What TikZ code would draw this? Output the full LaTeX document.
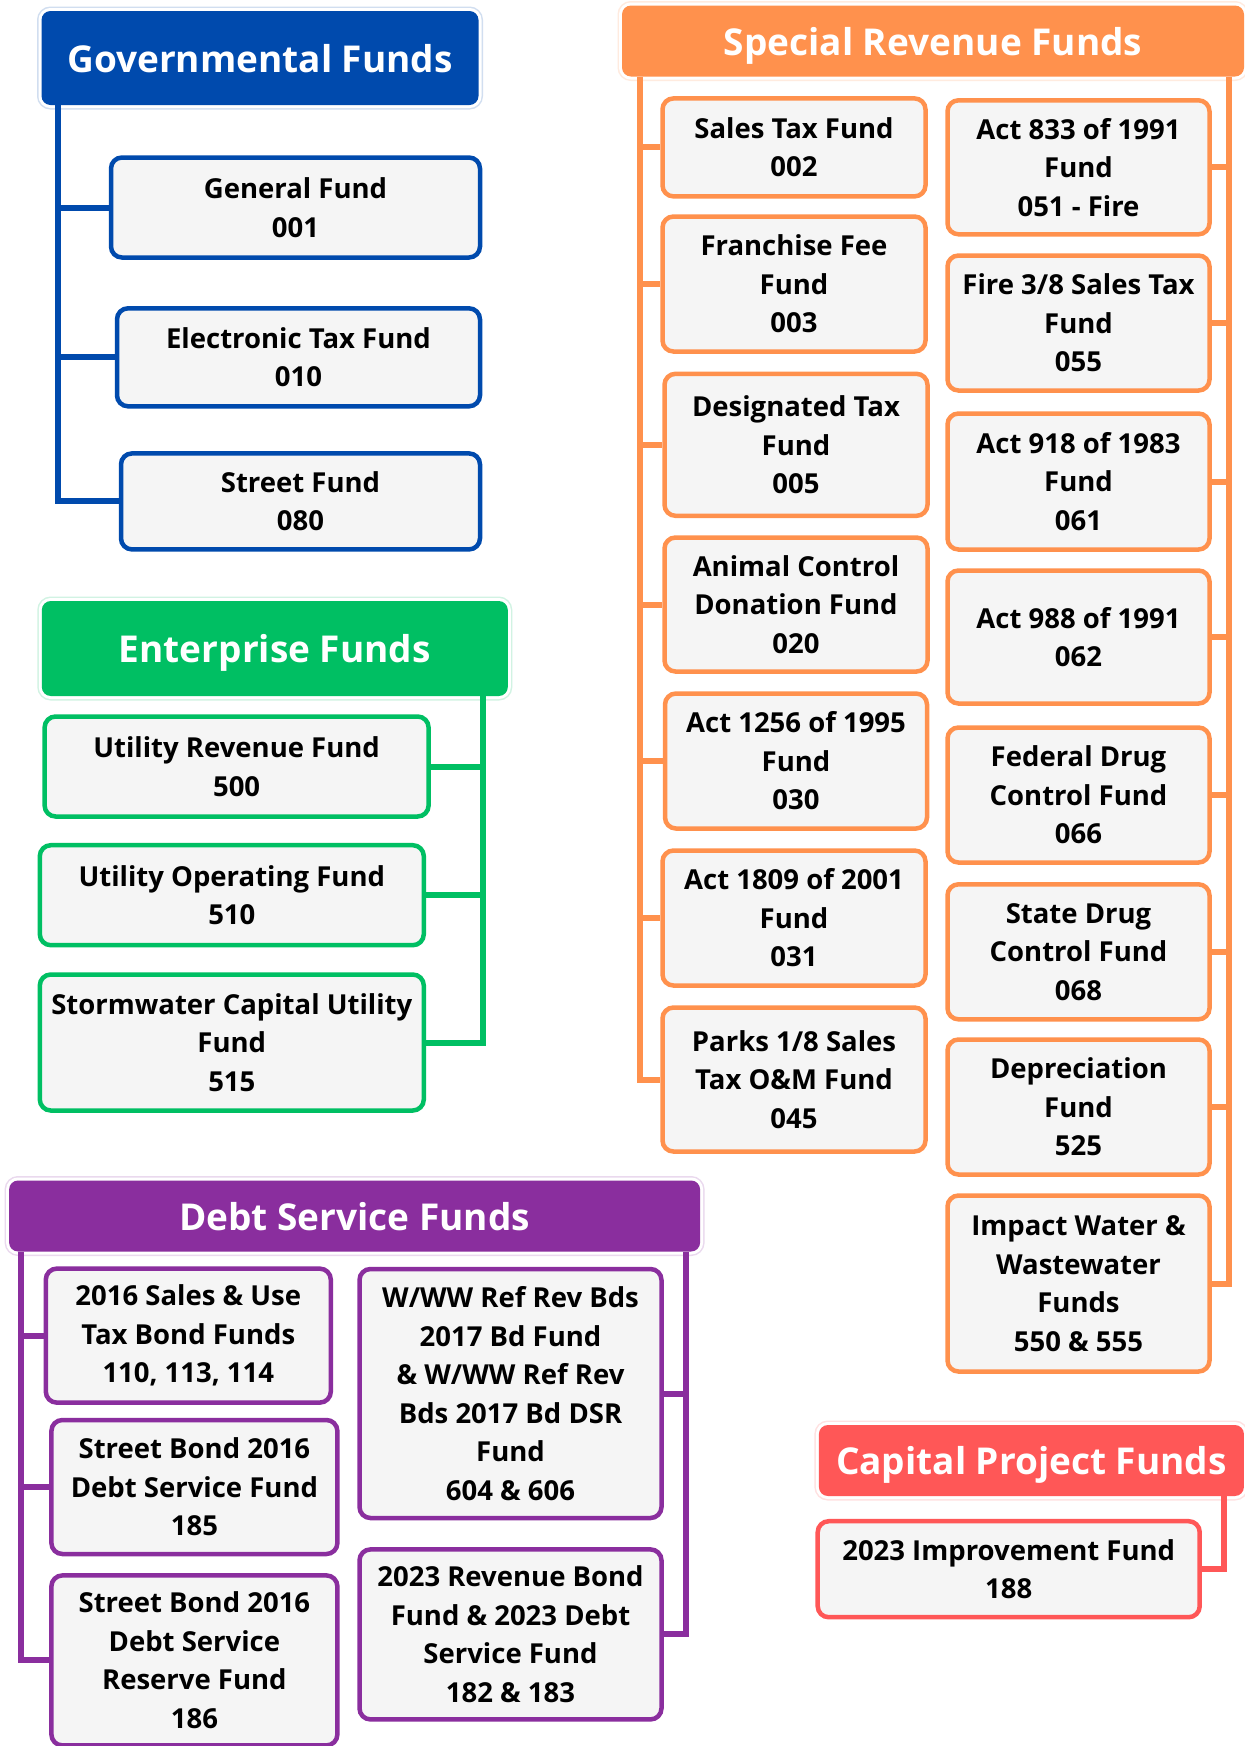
\documentclass[tikz,border=0pt]{standalone}
\usepackage{fontspec}
\setmainfont{Open Sans}
\definecolor{blu}{HTML}{004AAD}
\definecolor{grn}{HTML}{00BF63}
\definecolor{org}{HTML}{FF914D}
\definecolor{pur}{HTML}{8A2E9E}
\definecolor{red1}{HTML}{FF5757}
\definecolor{boxgray}{HTML}{F5F5F5}
\tikzset{
  fundbox/.style={draw=#1, line width=4.5pt, rounded corners=11pt, fill=boxgray,
    align=center, inner sep=0pt, text=black,
    font=\fontsize{27.5}{38.5}\selectfont\bfseries},
  headbox/.style={fill=#1, draw=none, rounded corners=9pt, text=white,
    inner sep=0pt, align=center, text depth=0pt,
    preaction={draw=#1!18, line width=9pt, rounded corners=9pt},
    preaction={draw=white, line width=6pt, rounded corners=9pt},
    font=\fontsize{37}{40}\selectfont\bfseries},
  conn/.style={draw=#1, line width=6pt, line join=miter}
}
\begin{document}
\begin{tikzpicture}[x=1pt,y=-1pt]
\useasboundingbox (0,0) rectangle (1245,1746);
\clip (0,0) rectangle (1245,1746);
\fill[white] (0,0) rectangle (1245,1746);

% ---------------- Governmental Funds ----------------
\coordinate (gx) at (58,0);
\node[headbox=blu, minimum width=437pt, minimum height=94pt] (gh) at (260,58) {Governmental Funds};
\node[fundbox=blu, minimum width=369pt, minimum height=100pt] (g1) at (295.5,207.5) {General Fund\\001};
\node[fundbox=blu, minimum width=363pt, minimum height=98pt] (g2) at (298.5,357.3) {Electronic Tax Fund\\010};
\node[fundbox=blu, minimum width=359pt, minimum height=96pt] (g3) at (300.5,501.4) {Street Fund\\080};
\draw[conn=blu] (gh.south -| gx) -- (gx |- g3.west) -- (g3.west);
\draw[conn=blu] (gx |- g1.west) -- (g1.west);
\draw[conn=blu] (gx |- g2.west) -- (g2.west);

% ---------------- Enterprise Funds ----------------
\coordinate (ex) at (483,0);
\node[headbox=grn, minimum width=466pt, minimum height=95pt] (eh) at (274.8,648.5) {Enterprise Funds};
\node[fundbox=grn, minimum width=384pt, minimum height=100pt] (e1) at (236.6,766.5) {Utility Revenue Fund\\500};
\node[fundbox=grn, minimum width=384pt, minimum height=100pt] (e2) at (231.8,895.2) {Utility Operating Fund\\510};
\node[fundbox=grn, minimum width=384pt, minimum height=136pt] (e3) at (231.8,1042.5) {Stormwater Capital Utility\\Fund\\515};
\draw[conn=grn] (eh.south -| ex) -- (ex |- e3.east) -- (e3.east);
\draw[conn=grn] (ex |- e1.east) -- (e1.east);
\draw[conn=grn] (ex |- e2.east) -- (e2.east);

% ---------------- Special Revenue Funds ----------------
\coordinate (slx) at (640,0);
\coordinate (srx) at (1229,0);
\node[headbox=org, minimum width=622pt, minimum height=71pt] (sh) at (933,41) {Special Revenue Funds};
\node[fundbox=org, minimum width=263pt, minimum height=98pt] (s1) at (794,147.4) {Sales Tax Fund\\002};
\node[fundbox=org, minimum width=263pt, minimum height=135pt] (s2) at (794,284) {Franchise Fee\\Fund\\003};
\node[fundbox=org, minimum width=263pt, minimum height=142pt] (s3) at (796,444.8) {Designated Tax\\Fund\\005};
\node[fundbox=org, minimum width=263pt, minimum height=134pt] (s4) at (796,604.5) {Animal Control\\Donation Fund\\020};
\node[fundbox=org, minimum width=262pt, minimum height=135pt] (s5) at (796,761) {Act 1256 of 1995\\Fund\\030};
\node[fundbox=org, minimum width=263pt, minimum height=135pt] (s6) at (794,918) {Act 1809 of 2001\\Fund\\031};
\node[fundbox=org, minimum width=263pt, minimum height=144pt] (s7) at (794,1079.5) {Parks 1/8 Sales\\Tax O\&M Fund\\045};
\node[fundbox=org, minimum width=262pt, minimum height=134pt] (r1) at (1078.5,167.3) {Act 833 of 1991\\Fund\\051 - Fire};
\node[fundbox=org, minimum width=262pt, minimum height=135pt] (r2) at (1078.5,323) {Fire 3/8 Sales Tax\\Fund\\055};
\node[fundbox=org, minimum width=262pt, minimum height=136pt] (r3) at (1078.5,481.5) {Act 918 of 1983\\Fund\\061};
\node[fundbox=org, minimum width=262pt, minimum height=133pt] (r4) at (1078.5,637) {Act 988 of 1991\\062};
\node[fundbox=org, minimum width=262pt, minimum height=135pt] (r5) at (1078.5,795) {Federal Drug\\Control Fund\\066};
\node[fundbox=org, minimum width=262pt, minimum height=135pt] (r6) at (1078.5,951.8) {State Drug\\Control Fund\\068};
\node[fundbox=org, minimum width=262pt, minimum height=135pt] (r7) at (1078.5,1107) {Depreciation\\Fund\\525};
\node[fundbox=org, minimum width=262pt, minimum height=176pt] (r8) at (1078.5,1283.5) {Impact Water \&\\Wastewater\\Funds\\550 \& 555};
\draw[conn=org] (sh.south -| slx) -- (slx |- s7.west) -- (s7.west);
\foreach \n in {s1,s2,s3,s4,s5,s6}{\draw[conn=org] (slx |- \n.west) -- (\n.west);}
\draw[conn=org] (sh.south -| srx) -- (srx |- r8.east) -- (r8.east);
\foreach \n in {r1,r2,r3,r4,r5,r6,r7}{\draw[conn=org] (srx |- \n.east) -- (\n.east);}

% ---------------- Debt Service Funds ----------------
\coordinate (dlx) at (21,0);
\coordinate (drx) at (685.5,0);
\node[headbox=pur, minimum width=691pt, minimum height=71pt] (dh) at (354.6,1216) {Debt Service Funds};
\node[fundbox=pur, minimum width=285pt, minimum height=134pt] (d1) at (188.3,1335.6) {2016 Sales \& Use\\Tax Bond Funds\\110, 113, 114};
\node[fundbox=pur, minimum width=286pt, minimum height=134pt] (d2) at (194.4,1487) {Street Bond 2016\\Debt Service Fund\\185};
\node[fundbox=pur, minimum width=286pt, minimum height=170pt] (d3) at (194.4,1660.4) {Street Bond 2016\\Debt Service\\Reserve Fund\\186};
\node[fundbox=pur, minimum width=302pt, minimum height=249pt] (d4) at (510.5,1393.5) {W/WW Ref Rev Bds\\2017 Bd Fund\\\& W/WW Ref Rev\\Bds 2017 Bd DSR\\Fund\\604 \& 606};
\node[fundbox=pur, minimum width=302pt, minimum height=170pt] (d5) at (510.5,1634.4) {2023 Revenue Bond\\Fund \& 2023 Debt\\Service Fund\\182 \& 183};
\draw[conn=pur] (dh.south -| dlx) -- (dlx |- d3.west) -- (d3.west);
\draw[conn=pur] (dlx |- d1.west) -- (d1.west);
\draw[conn=pur] (dlx |- d2.west) -- (d2.west);
\draw[conn=pur] (dh.south -| drx) -- (drx |- d5.east) -- (d5.east);
\draw[conn=pur] (drx |- d4.east) -- (d4.east);

% ---------------- Capital Project Funds ----------------
\coordinate (cx) at (1224,0);
\node[headbox=red1, minimum width=425pt, minimum height=71pt] (ch) at (1031.4,1460.5) {Capital Project Funds};
\node[fundbox=red1, minimum width=382pt, minimum height=96pt] (c1) at (1008.7,1569.2) {2023 Improvement Fund\\188};
\draw[conn=red1] (ch.south -| cx) -- (cx |- c1.east) -- (c1.east);
\end{tikzpicture}
\end{document}
